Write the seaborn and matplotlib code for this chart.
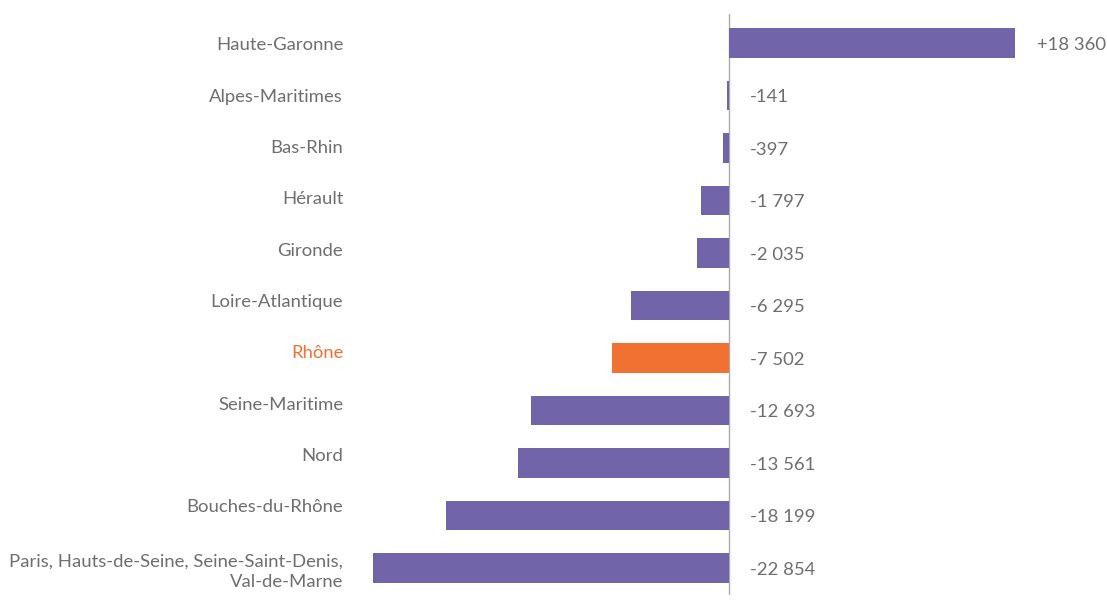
import matplotlib
matplotlib.use("Agg")
import matplotlib.pyplot as plt
import matplotlib.transforms as mtransforms
import seaborn as sns
import pandas as pd

# Data
departements = [
    "Haute-Garonne",
    "Alpes-Maritimes",
    "Bas-Rhin",
    "Hérault",
    "Gironde",
    "Loire-Atlantique",
    "Rhône",
    "Seine-Maritime",
    "Nord",
    "Bouches-du-Rhône",
    "Paris, Hauts-de-Seine, Seine-Saint-Denis,\nVal-de-Marne",
]
solde = [18360, -141, -397, -1797, -2035, -6295, -7502, -12693, -13561, -18199, -22854]
highlight = "Rhône"

PURPLE = "#7264A8"
ORANGE = "#F07132"
GREY_TXT = "#6E6E6E"
FS = 13.3

df = pd.DataFrame({"dep": departements, "solde": solde})
df["grp"] = ["hl" if d == highlight else "other" for d in df["dep"]]

sns.set_theme(style="white")
plt.rcParams["font.family"] = ["Lato", "DejaVu Sans"]

fig = plt.figure(figsize=(11.07, 6.0), dpi=100)
W, H = 1107, 600
left, right = 373, 1015
top, bottom = 16.75, 594.25
ax = fig.add_axes([left / W, 1 - bottom / H, (right - left) / W, (bottom - top) / H])

sns.barplot(data=df, y="dep", x="solde", hue="grp", palette={"hl": ORANGE, "other": PURPLE},
            orient="h", width=0.57, legend=False, ax=ax, order=departements,
            saturation=1, linewidth=0)

ax.set_xlim(min(solde), max(solde))
ax.set_ylim(len(departements) - 0.5, -0.5)
ax.set_xlabel("")
ax.set_ylabel("")
ax.set_xticks([])
for s in ["top", "right", "bottom", "left"]:
    ax.spines[s].set_visible(False)

# zero axis line, drawn under the bars so tiny bars stay visible
ax.axvline(0, ymin=0, ymax=1.005, color="#ABABAB", lw=1.0, clip_on=False, zorder=0.5)

# category labels
ax.tick_params(axis="y", length=0, pad=21.5, labelsize=FS, labelcolor=GREY_TXT)
n = len(departements)
for i, lab in enumerate(ax.get_yticklabels()):
    lab.set_horizontalalignment("right")
    lab.set_multialignment("right")
    lab.set_linespacing(1.35)
    if lab.get_text() == highlight:
        lab.set_color(ORANGE)
    if i < n - 1:
        dy = -(1.0 - 1.2 * i) / 100
        lab.set_transform(lab.get_transform() + mtransforms.ScaledTranslation(0, dy, fig.dpi_scale_trans))

px = (max(solde) - min(solde)) / (right - left)


def fmt(v):
    s = f"{abs(v):,}".replace(",", " ")
    return ("+" if v > 0 else "-") + s


for i, v in enumerate(solde):
    x = v + 22 * px if v > 0 else 21 * px
    ax.text(x, i + 0.03, fmt(v), ha="left", va="center", fontsize=FS,
            color=GREY_TXT, clip_on=False)

fig.savefig("out.png", dpi=100)
